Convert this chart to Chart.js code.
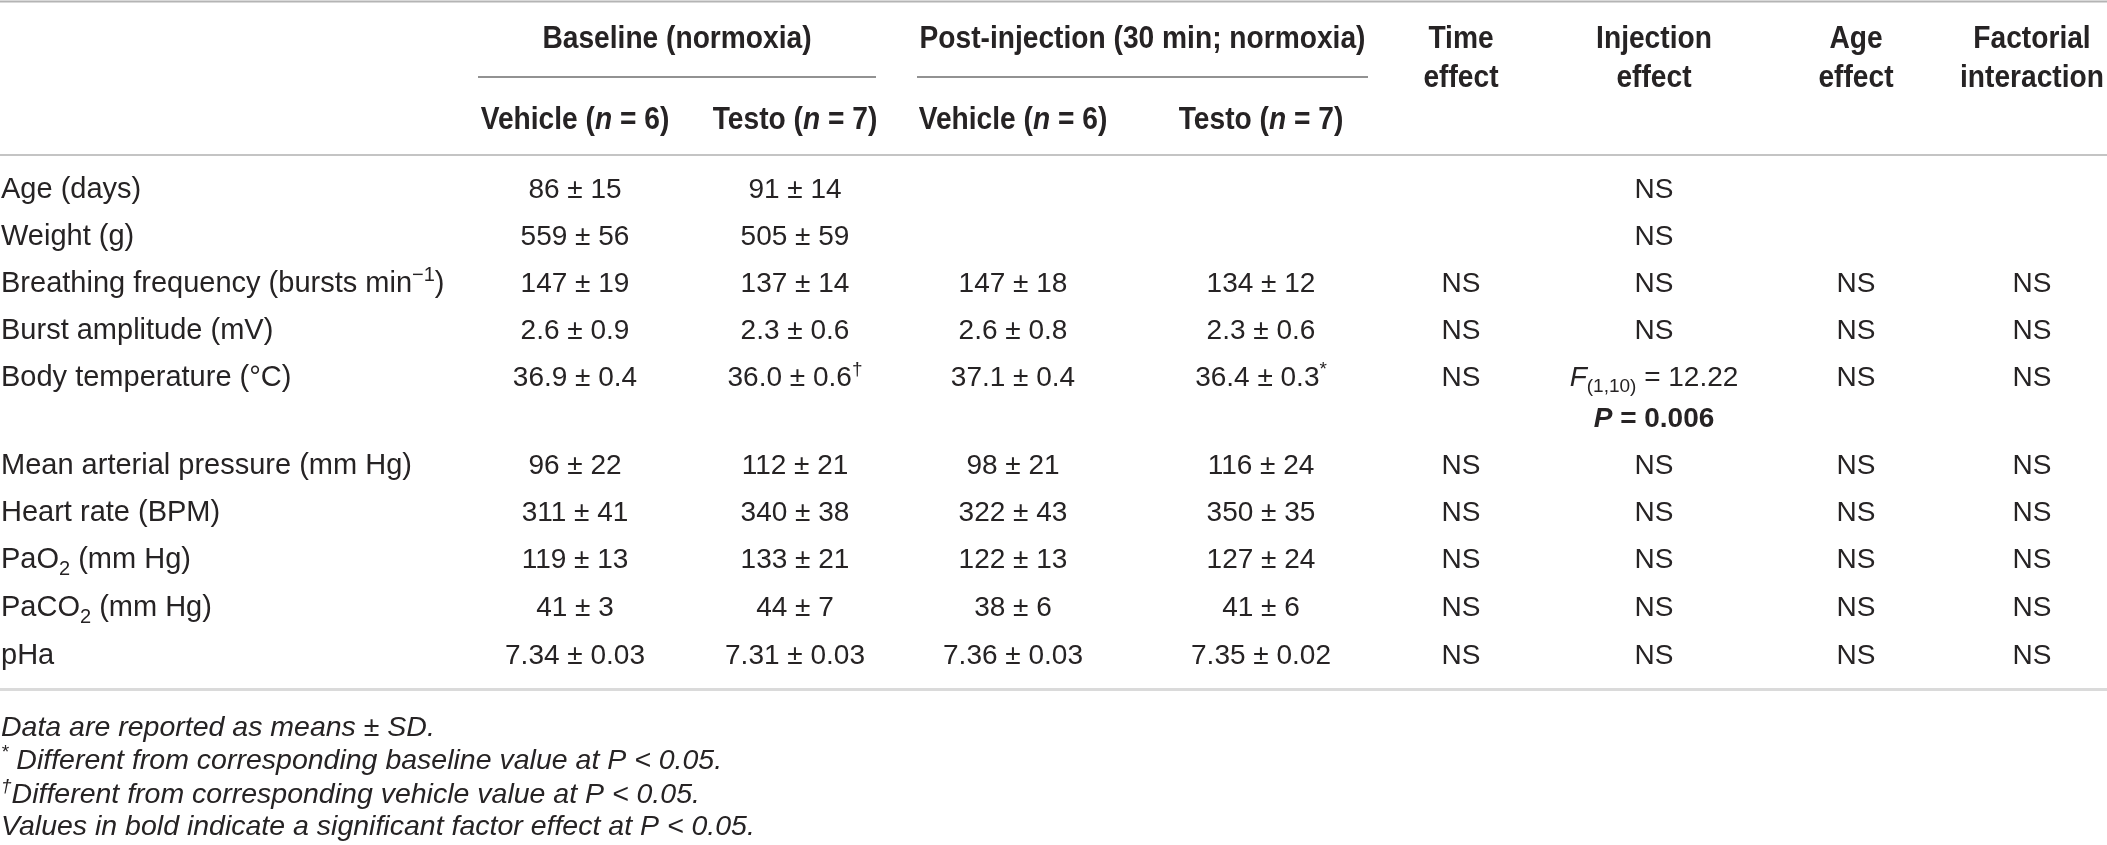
<!DOCTYPE html>
<html>
<head>
<meta charset="utf-8">
<script src="https://cdn.jsdelivr.net/npm/chart.js@4/dist/chart.umd.min.js"></script>
<style>
html,body{margin:0;padding:0;background:#fff;}
#wrap{width:2107px;height:845px;position:relative;}
</style>
</head>
<body>
<div id="wrap"><canvas id="c"></canvas></div>
<script>
// ---------- DATA ----------
const groupHeaders = ['Baseline (normoxia)', 'Post-injection (30 min; normoxia)'];
const columnHeaders = ['Vehicle (*n* = 6)', 'Testo (*n* = 7)', 'Vehicle (*n* = 6)', 'Testo (*n* = 7)',
  'Time|effect', 'Injection|effect', 'Age|effect', 'Factorial|interaction'];
const rowLabels = ['Age (days)', 'Weight (g)', 'Breathing frequency (bursts min^{−1})', 'Burst amplitude (mV)',
  'Body temperature (°C)', 'Mean arterial pressure (mm Hg)', 'Heart rate (BPM)', 'PaO_{2} (mm Hg)',
  'PaCO_{2} (mm Hg)', 'pHa'];
const decimals = [0, 0, 0, 1, 1, 0, 0, 0, 0, 2];
const baseVehicleMean = [86, 559, 147, 2.6, 36.9, 96, 311, 119, 41, 7.34];
const baseVehicleSD   = [15, 56, 19, 0.9, 0.4, 22, 41, 13, 3, 0.03];
const baseTestoMean   = [91, 505, 137, 2.3, 36.0, 112, 340, 133, 44, 7.31];
const baseTestoSD     = [14, 59, 14, 0.6, 0.6, 21, 38, 21, 7, 0.03];
const postVehicleMean = [null, null, 147, 2.6, 37.1, 98, 322, 122, 38, 7.36];
const postVehicleSD   = [null, null, 18, 0.8, 0.4, 21, 43, 13, 6, 0.03];
const postTestoMean   = [null, null, 134, 2.3, 36.4, 116, 350, 127, 41, 7.35];
const postTestoSD     = [null, null, 12, 0.6, 0.3, 24, 35, 24, 6, 0.02];
const baseTestoMark   = ['', '', '', '', '†', '', '', '', '', ''];
const postTestoMark   = ['', '', '', '', '*', '', '', '', '', ''];
const timeEffect      = [null, null, 'NS', 'NS', 'NS', 'NS', 'NS', 'NS', 'NS', 'NS'];
const injectionEffect = ['NS', 'NS', 'NS', 'NS', '*F*_{(1,10)} = 12.22', 'NS', 'NS', 'NS', 'NS', 'NS'];
const injectionSig    = [null, null, null, null, '*P* = 0.006', null, null, null, null, null];
const ageEffect       = [null, null, 'NS', 'NS', 'NS', 'NS', 'NS', 'NS', 'NS', 'NS'];
const interaction     = [null, null, 'NS', 'NS', 'NS', 'NS', 'NS', 'NS', 'NS', 'NS'];
const footnotes = ['Data are reported as means ± SD.',
  '^{*} Different from corresponding baseline value at P < 0.05.',
  '^{†}Different from corresponding vehicle value at P < 0.05.',
  'Values in bold indicate a significant factor effect at P < 0.05.'];

// ---------- LAYOUT (positions in scale units) ----------
const W = 2107, H = 845;
const colX = [575, 795, 1013, 1261, 1461, 1654, 1856, 2032];
const rowY = [188, 235, 282, 329, 376, 464, 511, 558, 606, 654];
const sigOffset = 41;
const groupSpans = [[478, 876], [917, 1368]];
const footY = [726, 759, 793, 825];
const FONT = '"Liberation Sans", Arial, sans-serif';
const TEXT = '#262324';
const BODY = 28, LABEL = 29, FOOT = 28.5, HEAD = 32, HEAD_SX = 0.88;

function fmt(m, s, d, mark) {
  if (m === null) return null;
  return m.toFixed(d) + ' ± ' + s.toFixed(d) + (mark ? '^{' + mark + '}' : '');
}
const cellCols = [
  baseVehicleMean.map((m, i) => fmt(m, baseVehicleSD[i], decimals[i], '')),
  baseTestoMean.map((m, i) => fmt(m, baseTestoSD[i], decimals[i], baseTestoMark[i])),
  postVehicleMean.map((m, i) => fmt(m, postVehicleSD[i], decimals[i], '')),
  postTestoMean.map((m, i) => fmt(m, postTestoSD[i], decimals[i], postTestoMark[i])),
  timeEffect, injectionEffect, ageEffect, interaction
];

// ---------- rich text ----------
function parse(str) {
  const segs = []; let i = 0, italic = false, buf = '';
  const push = (mode) => { if (buf) segs.push({ t: buf, mode: mode || 'n', italic }); buf = ''; };
  while (i < str.length) {
    const ch = str[i];
    if ((ch === '^' || ch === '_') && str[i+1] === '{') {
      push();
      const end = str.indexOf('}', i);
      buf = str.slice(i + 2, end); push(ch === '^' ? 'sup' : 'sub'); i = end + 1; continue;
    }
    if (ch === '*') { push(); italic = !italic; i++; continue; }
    buf += ch; i++;
  }
  push();
  return segs;
}
function fontFor(seg, size, bold, italicAll) {
  const s = seg.mode === 'n' ? size : Math.round(size * 0.68);
  const it = (italicAll || seg.italic) ? 'italic ' : '';
  return it + (bold ? 'bold ' : '') + s + 'px ' + FONT;
}
function drawRich(ctx, str, x, yMid, align, size, bold, italicAll, sx) {
  sx = sx || 1;
  const segs = parse(str);
  const ws = segs.map(sg => { ctx.font = fontFor(sg, size, bold, italicAll); return ctx.measureText(sg.t).width; });
  const total = ws.reduce((a, b) => a + b, 0) * sx;
  const x0 = align === 'center' ? x - total / 2 : (align === 'right' ? x - total : x);
  const base = yMid + size * 0.36;
  ctx.save();
  ctx.translate(x0, 0); ctx.scale(sx, 1);
  ctx.textAlign = 'left'; ctx.textBaseline = 'alphabetic'; ctx.fillStyle = TEXT;
  let cx = 0;
  segs.forEach((sg, k) => {
    ctx.font = fontFor(sg, size, bold, italicAll);
    let yy = base;
    if (sg.mode === 'sup') yy = base - size * 0.38;
    if (sg.mode === 'sub') yy = base + size * 0.22;
    ctx.fillText(sg.t, cx, yy);
    cx += ws[k];
  });
  ctx.restore();
}

// ---------- datasets: one point per table cell ----------
const datasets = cellCols.map((col, c) => ({
  label: columnHeaders[c],
  data: col.map((v, r) => v === null ? null : { x: colX[c], y: rowY[r], text: v }).filter(p => p),
  pointRadius: 0, showLine: false
}));
datasets.push({
  label: 'rowLabels',
  data: rowLabels.map((t, r) => ({ x: 1, y: rowY[r], text: t, align: 'left', size: LABEL })),
  pointRadius: 0, showLine: false
});
datasets.push({
  label: 'significance',
  data: injectionSig.map((t, r) => t === null ? null : { x: colX[5], y: rowY[r] + sigOffset, text: t, bold: true }).filter(p => p),
  pointRadius: 0, showLine: false
});

const tablePlugin = {
  id: 'tablePlugin',
  afterDatasetsDraw(chart) {
    const ctx = chart.ctx, xs = chart.scales.x, ys = chart.scales.y;
    const X = v => xs.getPixelForValue(v), Y = v => ys.getPixelForValue(v);
    ctx.save();
    const rule = (y, x0, x1, color, w) => {
      ctx.strokeStyle = color; ctx.lineWidth = w;
      ctx.beginPath(); ctx.moveTo(X(x0), Y(y)); ctx.lineTo(X(x1), Y(y)); ctx.stroke();
    };
    rule(1.5, 0, W, '#b4b4b4', 2);
    groupSpans.forEach(s => rule(77, s[0], s[1], '#6e6e6e', 1.5));
    rule(155, 0, W, '#c4c4c4', 2);
    rule(689.5, 0, W, '#dadada', 3);
    groupHeaders.forEach((g, i) => drawRich(ctx, g, X((groupSpans[i][0] + groupSpans[i][1]) / 2), Y(36), 'center', HEAD, true, false, HEAD_SX));
    columnHeaders.forEach((h, c) => {
      const parts = h.split('|');
      if (parts.length === 2) {
        drawRich(ctx, parts[0], X(colX[c]), Y(36), 'center', HEAD, true, false, HEAD_SX);
        drawRich(ctx, parts[1], X(colX[c]), Y(75), 'center', HEAD, true, false, HEAD_SX);
      } else {
        drawRich(ctx, h, X(colX[c]), Y(117), 'center', HEAD, true, false, HEAD_SX);
      }
    });
    chart.data.datasets.forEach((ds, di) => {
      const meta = chart.getDatasetMeta(di);
      meta.data.forEach((el, k) => {
        const p = ds.data[k];
        drawRich(ctx, p.text, el.x, el.y, p.align || 'center', p.size || BODY, !!p.bold, false);
      });
    });
    footnotes.forEach((f, i) => drawRich(ctx, f, X(1), Y(footY[i]), 'left', FOOT, false, true));
    ctx.restore();
  }
};

new Chart(document.getElementById('c'), {
  type: 'scatter',
  data: { datasets },
  options: {
    responsive: true, maintainAspectRatio: false, animation: false,
    layout: { padding: 0 },
    plugins: { legend: { display: false }, tooltip: { enabled: false } },
    scales: {
      x: { type: 'linear', min: 0, max: W, display: false },
      y: { type: 'linear', min: 0, max: H, reverse: true, display: false }
    }
  },
  plugins: [tablePlugin]
});
</script>
</body>
</html>
